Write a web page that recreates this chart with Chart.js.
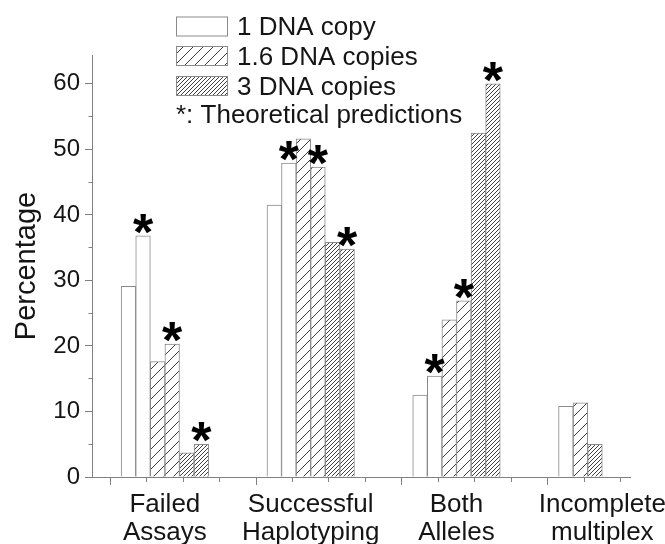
<!DOCTYPE html>
<html><head><meta charset="utf-8">
<script src="https://cdn.jsdelivr.net/npm/chart.js@4"></script>
<style>html,body{margin:0;padding:0;background:#fff}#wrap{width:665px;height:544px;position:relative}</style>
</head><body><div id="wrap"><canvas id="c" width="665" height="544"></canvas></div>
<script>
// ---- data ----
const categories = [["Failed","Assays"],["Successful","Haplotyping"],["Both","Alleles"],["Incomplete","multiplex"]];
const seriesNames = ["1 DNA copy","1.6 DNA copies","3 DNA copies"];
const noteLabel = "*: Theoretical predictions";
const yAxisTitle = "Percentage";
const oneCopyObserved  = [29.1, 41.5, 12.5, 10.8];
const oneCopyTheory    = [36.8, 47.9, 15.4, null];
const copies16Observed = [17.6, 51.6, 24.0, 11.3];
const copies16Theory   = [20.3, 47.3, 26.9, null];
const copies3Observed  = [3.7, 35.8, 52.5, 5.0];
const copies3Theory    = [5.0, 34.8, 60.0, null];
const yTickValues = [0,5,10,15,20,25,30,35,40,45,50,55,60];
const yLabelValues = [0,10,20,30,40,50,60];

// ---- styles ----
const FONT = '"Liberation Sans", Arial, sans-serif';
const AXIS = '#808080';
const TEXT = '#151515';
const SLOT = 0.1; // width of one bar slot, as a fraction of the category spacing

function hatch(step, color, width) {
  const c = document.createElement('canvas');
  c.width = step; c.height = step;
  const g = c.getContext('2d');
  g.fillStyle = '#fff'; g.fillRect(0,0,step,step);
  g.strokeStyle = color; g.lineWidth = width;
  g.beginPath();
  g.moveTo(-1, step+1); g.lineTo(step+1, -1);
  g.moveTo(-step-1, step+1); g.lineTo(1, -1);
  g.moveTo(step-1, 2*step+1); g.lineTo(2*step+1, step-1);
  g.stroke();
  return document.getElementById('c').getContext('2d').createPattern(c, 'repeat');
}
const fills = ['#ffffff', hatch(10, '#3a3a3a', 1), hatch(4, '#404040', 1)];

// series in slot order within each category group; missing values are packed to the left
const seriesList = [
  {vals: oneCopyObserved, s: 0, theory: false}, {vals: oneCopyTheory, s: 0, theory: true},
  {vals: copies16Observed, s: 1, theory: false}, {vals: copies16Theory, s: 1, theory: true},
  {vals: copies3Observed, s: 2, theory: false}, {vals: copies3Theory, s: 2, theory: true}
];
const nSlots = seriesList.length;
const datasets = seriesList.map((ser, k) => {
  const data = [];
  ser.vals.forEach((v, i) => {
    if (v == null) return;
    let slot = 0;
    for (let j = 0; j < k; j++) if (seriesList[j].vals[i] != null) slot++;
    data.push({x: i + (slot - (nSlots - 1) / 2) * SLOT, y: v});
  });
  return {label: seriesNames[ser.s] + (ser.theory ? ' *' : ''), data, theory: ser.theory,
    backgroundColor: fills[ser.s], borderColor: '#8a8a8a', borderWidth: 1,
    grouped: false, categoryPercentage: 1, barPercentage: 1};
});

const starsPlugin = {
  id: 'stars',
  afterDatasetsDraw(chart) {
    const ctx = chart.ctx;
    ctx.save();
    ctx.font = 'bold 52px ' + FONT;
    ctx.fillStyle = '#000';
    ctx.textAlign = 'center';
    ctx.textBaseline = 'alphabetic';
    const m = ctx.measureText('*');
    chart.data.datasets.forEach((d, di) => {
      if (!d.theory) return;
      chart.getDatasetMeta(di).data.forEach((bar) => {
        ctx.fillText('*', bar.x, bar.y - 2 - m.actualBoundingBoxDescent);
      });
    });
    ctx.restore();
  }
};

const legendPlugin = {
  id: 'customLegend',
  afterDraw(chart) {
    const ctx = chart.ctx;
    ctx.save();
    ctx.font = '26px ' + FONT;
    ctx.fillStyle = TEXT;
    ctx.textBaseline = 'alphabetic';
    const tops = [16.5, 46, 76];
    seriesNames.forEach((name, s) => {
      ctx.fillStyle = fills[s];
      ctx.fillRect(176, tops[s], 52, 20);
      ctx.strokeStyle = '#8a8a8a'; ctx.lineWidth = 1;
      ctx.strokeRect(176.5, tops[s]+0.5, 51, 19);
      ctx.fillStyle = TEXT;
      ctx.fillText(name, 237, tops[s] + 18.5);
    });
    ctx.fillText(noteLabel, 176, 122.5);
    ctx.restore();
  }
};

const xTickValues = [];
for (let i = 0; i < categories.length; i++) for (let q = -1; q < 3; q++) xTickValues.push(i + q*0.25);
xTickValues.push(categories.length - 1);

new Chart(document.getElementById('c'), {
  type: 'bar',
  data: { datasets },
  plugins: [starsPlugin, legendPlugin],
  options: {
    responsive: false, animation: false,
    layout: { padding: { top: 55, right: 35, left: 0, bottom: 0 } },
    plugins: { legend: { display: false }, tooltip: { enabled: false } },
    scales: {
      x: {
        type: 'linear', min: -0.5, max: 3.19, offset: false,
        afterBuildTicks: s => { s.ticks = [...new Set(xTickValues)].sort((a,b)=>a-b).map(v => ({value: v})); },
        afterFit: s => { s.height = 67; s.paddingLeft = 0; s.paddingRight = 0; },
        ticks: { autoSkip: false, maxRotation: 0, minRotation: 0, color: TEXT, padding: 6,
          font: { family: FONT, size: 26, lineHeight: 1.08 },
          callback: v => Number.isInteger(v) ? categories[v] : '' },
        grid: { display: true, drawOnChartArea: false, tickLength: 8, tickColor: AXIS, tickWidth: 1,
          tickBorderDash: c => (c.tick && Math.abs((c.tick.value % 1 + 1) % 1 - 0.75) < 1e-6) ? [] : [4, 20] },
        border: { display: true, color: AXIS, width: 1 }
      },
      y: {
        min: 0, max: 64.4,
        afterBuildTicks: s => { s.ticks = yTickValues.map(v => ({value: v})); },
        afterFit: s => { s.width = 92; },
        ticks: { autoSkip: false, color: TEXT, padding: 5, font: { family: FONT, size: 24 },
          callback: v => yLabelValues.includes(v) ? String(v) : '' },
        grid: { display: true, drawOnChartArea: false, tickLength: 7, tickColor: AXIS, tickWidth: 1,
          tickBorderDash: c => (c.tick && c.tick.value % 10 === 0) ? [] : [0, 3.5, 4, 20] },
        border: { display: true, color: AXIS, width: 1 },
        title: { display: true, text: yAxisTitle, color: TEXT, font: { family: FONT, size: 29 }, padding: { top: 9.6, bottom: 0 } }
      }
    }
  }
});
</script></body></html>
